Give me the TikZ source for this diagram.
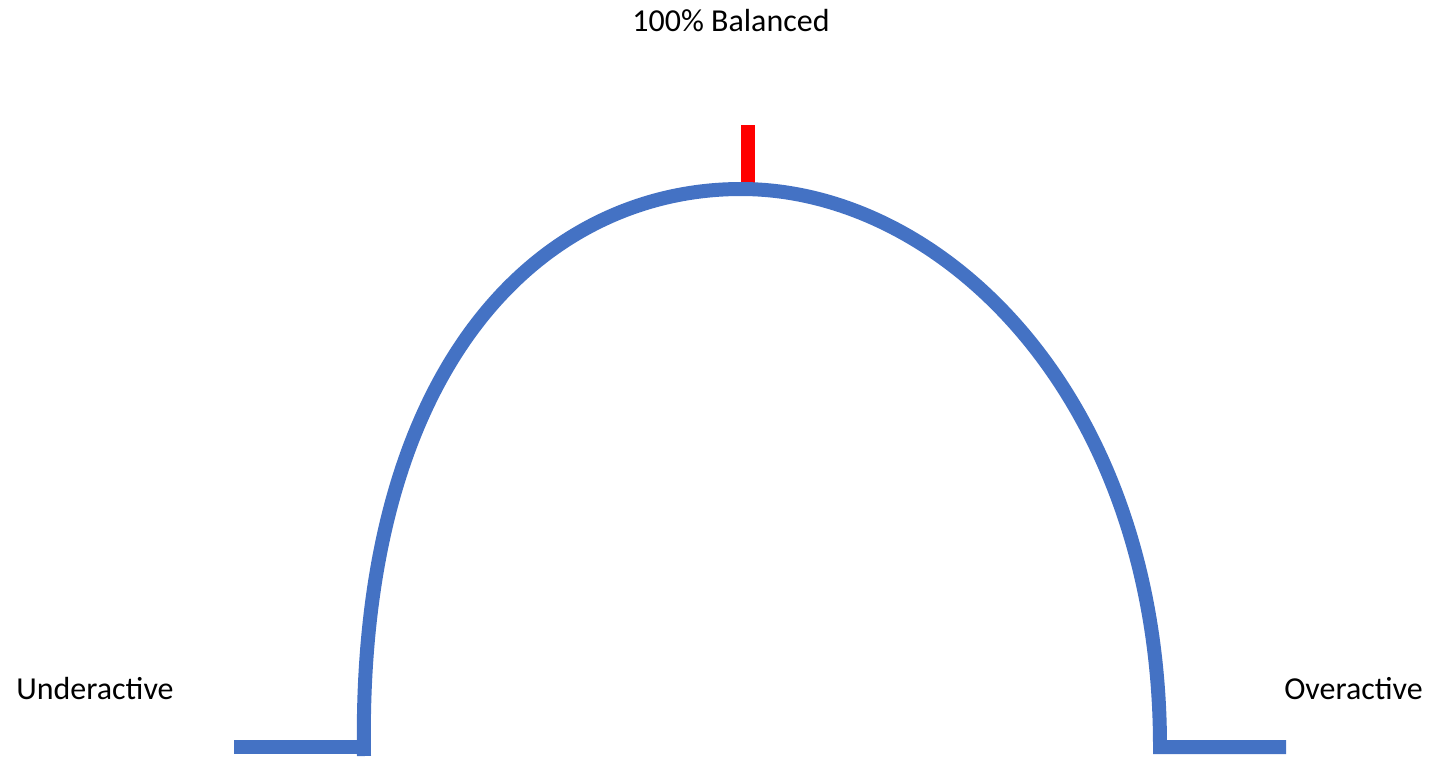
\documentclass[tikz,border=0pt]{standalone}
\usepackage{fontspec}
\setmainfont{Carlito}
\usepackage{xcolor}
\usetikzlibrary{positioning}

\definecolor{curveblue}{HTML}{4472C4}
\definecolor{markred}{HTML}{FF0000}

\begin{document}
\begin{tikzpicture}[
    x=0.02cm, y=-0.02cm,
    curve/.style={draw=curveblue, line width=0.28cm},
    tag/.style={font=\fontsize{18.2}{22}\selectfont, inner sep=0pt},
    marker/.style={fill=markred, inner sep=0pt, minimum width=0.28cm, minimum height=1.18cm}
]
\useasboundingbox (0,0) rectangle (1429,758);

% Labels
\node[tag, anchor=base] (bal) at (731,31) {100\% Balanced};
\node[tag, anchor=base west] (under) at (16,699) {Underactive};
\node[tag, anchor=base east] (over) at (1423,699) {Overactive};

% Curve points
\coordinate (lfoot) at (234,747);
\coordinate (lbase) at (362,747);
\coordinate (ltip) at (364,756);
\coordinate (peak) at (741,189);
\coordinate (rbase) at (1160,747);
\coordinate (rfoot) at (1286,747);

% Balance marker
\node[marker, anchor=south] (mark) at (748,184) {};

% Curve
\draw[curve] (lfoot) -- (lbase);
\draw[curve] (ltip) .. controls (357,360) and (545,189) .. (peak)
    .. controls (945,189) and (1160,400) .. (rbase) -- (rfoot);

\end{tikzpicture}
\end{document}
